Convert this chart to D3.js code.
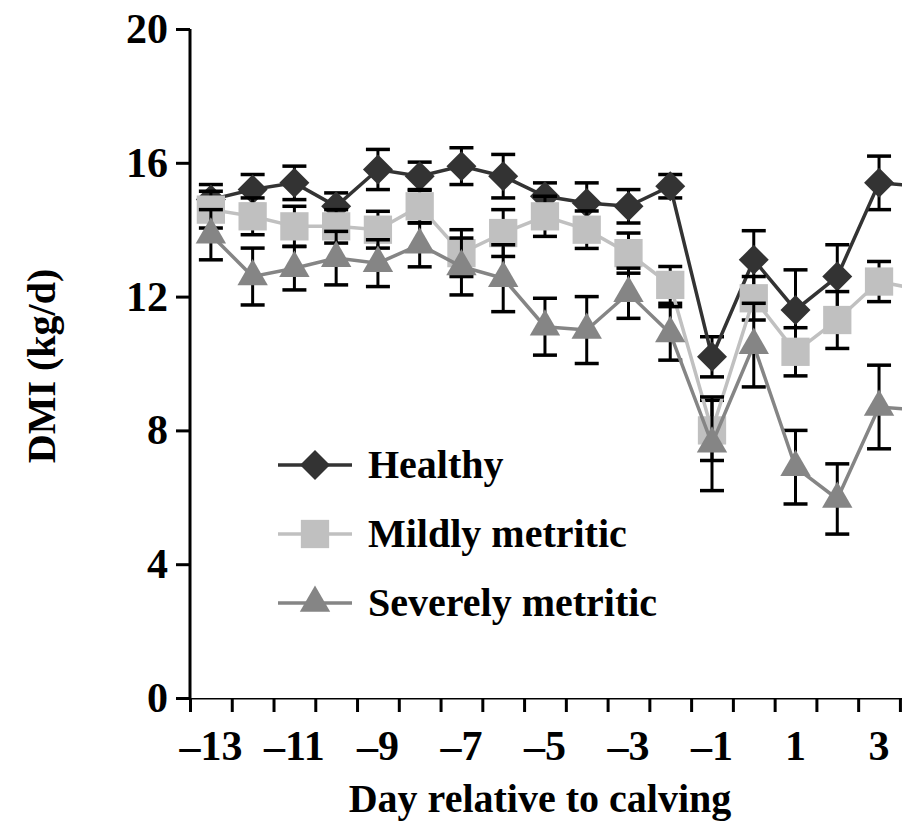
<!DOCTYPE html>
<html>
<head>
<meta charset="utf-8">
<script src="https://cdn.jsdelivr.net/npm/d3@7"></script>
<style>
  body { margin: 0; background: #fff; }
  text { font-family: "Liberation Serif", "Times New Roman", serif; font-weight: bold; fill: #000; }
</style>
</head>
<body>
<script>

// Day relative to calving (day 4 runs off the right edge of the figure)
var days = [-13, -12, -11, -10, -9, -8, -7, -6, -5, -4, -3, -2, -1, 0, 1, 2, 3, 4];

var healthy     = [14.9, 15.2, 15.4, 14.7, 15.8, 15.6, 15.9, 15.6, 15.0, 14.8, 14.7, 15.3, 10.2, 13.1, 11.6, 12.6, 15.4, 15.3];
var healthyErr  = [0.45, 0.45, 0.5, 0.4, 0.6, 0.42, 0.55, 0.65, 0.4, 0.6, 0.5, 0.35, 0.6, 0.87, 1.2, 0.95, 0.8, 0.8];

var mild        = [14.6, 14.4, 14.1, 14.1, 14.0, 14.7, 13.3, 13.9, 14.4, 14.0, 13.3, 12.35, 8.0, 11.95, 10.35, 11.3, 12.45, 12.2];
var mildErr     = [0.55, 0.55, 0.6, 0.5, 0.55, 0.5, 0.7, 0.7, 0.6, 0.56, 0.6, 0.55, 0.9, 0.65, 0.72, 0.85, 0.6, 0.6];

var severe      = [13.85, 12.6, 12.85, 13.15, 13.0, 13.55, 12.9, 12.55, 11.1, 11.0, 12.1, 10.9, 7.6, 10.55, 6.9, 5.95, 8.7, 8.6];
var severeErr   = [0.75, 0.85, 0.65, 0.8, 0.7, 0.66, 0.85, 1.0, 0.85, 1.0, 0.75, 0.8, 1.4, 1.25, 1.1, 1.05, 1.25, 1.2];

var seriesNames = ["Healthy", "Mildly metritic", "Severely metritic"];
var yTicks = [0, 4, 8, 12, 16, 20];
var xTickLabels = [-13, -11, -9, -7, -5, -3, -1, 1, 3];

var W = 902, H = 826;

var series = [
  { name: seriesNames[0], values: healthy, err: healthyErr, color: "#333333", shape: "diamond" },
  { name: seriesNames[1], values: mild,    err: mildErr,    color: "#c0c0c0", shape: "square" },
  { name: seriesNames[2], values: severe,  err: severeErr,  color: "#858585", shape: "triangle" }
];

var svg = d3.select("body").append("svg")
    .attr("width", W)
    .attr("height", H);

// scales: one day = one band, ticks sit between days
var x = d3.scaleLinear().domain([-13.5, 4.5]).range([190, 190 + 18 * 41.76]);
var y = d3.scaleLinear().domain([0, 20]).range([698, 29]);

function symbolPath(shape) {
  if (shape == "diamond") return d3.symbol().type(d3.symbolSquare).size(450)();
  if (shape == "square") return d3.symbol().type(d3.symbolSquare).size(800)();
  return d3.symbol().type(d3.symbolTriangle).size(400)();
}
function symbolRotate(shape) {
  return shape == "diamond" ? " rotate(45)" : "";
}

svg.append("clipPath").attr("id", "clip")
  .append("rect").attr("x", 0).attr("y", 0).attr("width", W).attr("height", H);

// axes
var xAxis = d3.axisBottom(x)
    .tickValues(d3.range(-13.5, 5, 1))
    .tickSize(14)
    .tickFormat("");
var yAxis = d3.axisLeft(y)
    .tickValues(yTicks)
    .tickSize(14)
    .tickPadding(8);

var gx = svg.append("g")
    .attr("transform", "translate(0," + y(0) + ")")
    .attr("clip-path", "url(#clip)")
    .call(xAxis);
gx.select(".domain").attr("d", "M" + x(-13.5) + ",0H" + W);

var gy = svg.append("g")
    .attr("transform", "translate(" + x(-13.5) + ",0)")
    .call(yAxis);
gy.select(".domain").attr("d", "M0," + y(20) + "V" + y(0));

svg.selectAll(".domain, .tick line")
    .attr("stroke", "#000")
    .attr("stroke-width", 3);
gy.selectAll(".tick text")
    .attr("font-size", "42px")
    .attr("font-family", "Liberation Serif, serif")
    .attr("font-weight", "bold")
    .attr("fill", "#000");

svg.selectAll(".xlabel")
    .data(xTickLabels)
    .enter().append("text")
    .attr("class", "xlabel")
    .attr("x", function(d) { return x(d); })
    .attr("y", 760)
    .attr("text-anchor", "middle")
    .attr("font-size", "42px")
    .text(function(d) { return d < 0 ? "\u2013" + Math.abs(d) : d; });

// axis titles
svg.append("text")
    .attr("x", 540)
    .attr("y", 812)
    .attr("text-anchor", "middle")
    .attr("font-size", "40px")
    .text("Day relative to calving");

svg.append("text")
    .attr("transform", "translate(55,366) rotate(-90)")
    .attr("text-anchor", "middle")
    .attr("font-size", "40px")
    .text("DMI (kg/d)");

// series: error bars, line, markers
var plot = svg.append("g").attr("clip-path", "url(#clip)");

var line = d3.line()
    .x(function(d, i) { return x(days[i]); })
    .y(function(d) { return y(d); });

series.forEach(function(s) {
  var g = plot.append("g");

  var pts = s.values.map(function(v, i) { return { day: days[i], v: v, e: s.err[i] }; });

  var eb = g.selectAll(".eb").data(pts).enter().append("g").attr("class", "eb");
  eb.append("line")
      .attr("x1", function(d) { return x(d.day); })
      .attr("x2", function(d) { return x(d.day); })
      .attr("y1", function(d) { return y(d.v - d.e); })
      .attr("y2", function(d) { return y(d.v + d.e); })
      .attr("stroke", "#000").attr("stroke-width", 3);
  eb.selectAll(".cap").data(function(d) { return [d.v - d.e, d.v + d.e].map(function(c) { return { day: d.day, c: c }; }); })
    .enter().append("line")
      .attr("x1", function(d) { return x(d.day) - 12; })
      .attr("x2", function(d) { return x(d.day) + 12; })
      .attr("y1", function(d) { return y(d.c); })
      .attr("y2", function(d) { return y(d.c); })
      .attr("stroke", "#000").attr("stroke-width", 3.5);

  g.append("path")
      .datum(s.values)
      .attr("fill", "none")
      .attr("stroke", s.color)
      .attr("stroke-width", 3.5)
      .attr("d", line);

  g.selectAll(".mark").data(pts).enter().append("path")
      .attr("class", "mark")
      .attr("d", symbolPath(s.shape))
      .attr("transform", function(d) { return "translate(" + x(d.day) + "," + y(d.v) + ")" + symbolRotate(s.shape); })
      .attr("fill", s.color);
});

// legend
var legend = svg.append("g");
series.forEach(function(s, i) {
  var ly = 465 + i * 69;
  legend.append("line")
      .attr("x1", 278).attr("x2", 352)
      .attr("y1", ly).attr("y2", ly)
      .attr("stroke", s.color).attr("stroke-width", 3.5);
  legend.append("path")
      .attr("d", symbolPath(s.shape))
      .attr("transform", "translate(315," + ly + ")" + symbolRotate(s.shape))
      .attr("fill", s.color);
  legend.append("text")
      .attr("x", 368)
      .attr("y", ly + 13)
      .attr("font-size", "40px")
      .text(s.name);
});

</script>
</body>
</html>
